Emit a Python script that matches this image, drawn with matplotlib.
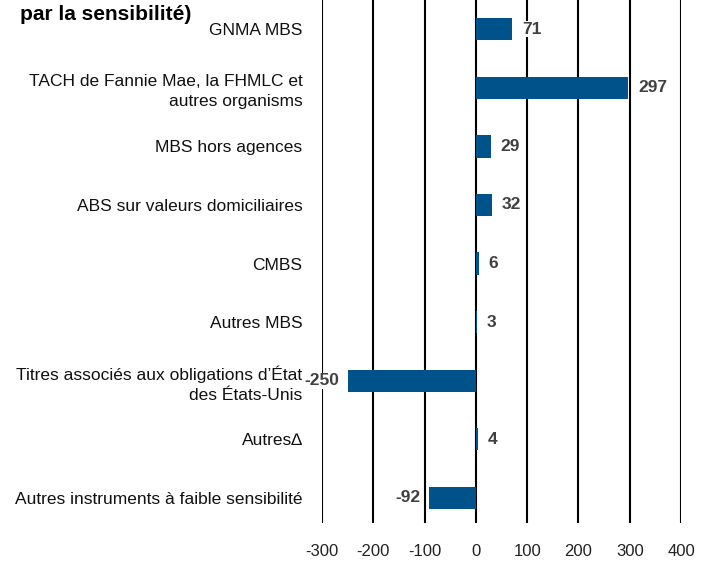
import matplotlib.pyplot as plt
from matplotlib import font_manager

# data
categories = [
    "GNMA MBS",
    "TACH de Fannie Mae, la FHMLC et\nautres organisms",
    "MBS hors agences",
    "ABS sur valeurs domiciliaires",
    "CMBS",
    "Autres MBS",
    "Titres associés aux obligations d\u2019État\ndes États-Unis",
    "Autres\u2206",
    "Autres instruments à faible sensibilité",
]
values = [71, 297, 29, 32, 6, 3, -250, 4, -92]
xticks = [-300, -200, -100, 0, 100, 200, 300, 400]

names = {f.name for f in font_manager.fontManager.ttflist}
narrow = "Liberation Sans Narrow" if "Liberation Sans Narrow" in names else "Liberation Sans"
plt.rcParams["font.family"] = [narrow, "DejaVu Sans"]

bar_color = "#00538a"
label_color = "#404040"

fig = plt.figure(figsize=(7.13, 5.66), dpi=100)
ax = fig.add_axes([322 / 713, 1 - 523 / 566, 359 / 713, 523 / 566])

pos = list(range(len(categories)))
ax.barh(pos, values, height=0.38, color=bar_color, zorder=3)

ax.set_xlim(-300, 400)
ax.set_ylim(8.43, -0.5)
ax.set_xticks(xticks)
ax.set_xticklabels([str(t) for t in xticks], fontsize=12, color="#222222")
ax.set_yticks(pos)
ax.set_yticklabels(categories, fontsize=12.5, color="#111111", linespacing=1.35)
ax.tick_params(axis="y", length=0, pad=14)
ax.tick_params(axis="x", length=0, pad=15)
ax.grid(axis="x", color="black", linewidth=1.5, zorder=1)
for s in ax.spines.values():
    s.set_visible(False)

for p, v in zip(pos, values):
    off = 7 if v >= 0 else -6
    ax.annotate(str(v), xy=(v, p), xytext=(off, 0), textcoords="offset points",
                ha="left" if v >= 0 else "right", va="center",
                fontsize=12.5, fontweight="bold", color=label_color, zorder=4,
                bbox=dict(facecolor="white", edgecolor="none", pad=0.3))

fig.text(20 / 713, 1 - 14 / 566, "par la sensibilité)", fontsize=15,
         fontweight="bold", family=["Liberation Sans", "DejaVu Sans"],
         ha="left", va="center", color="black")

fig.savefig("out.png", dpi=100)
